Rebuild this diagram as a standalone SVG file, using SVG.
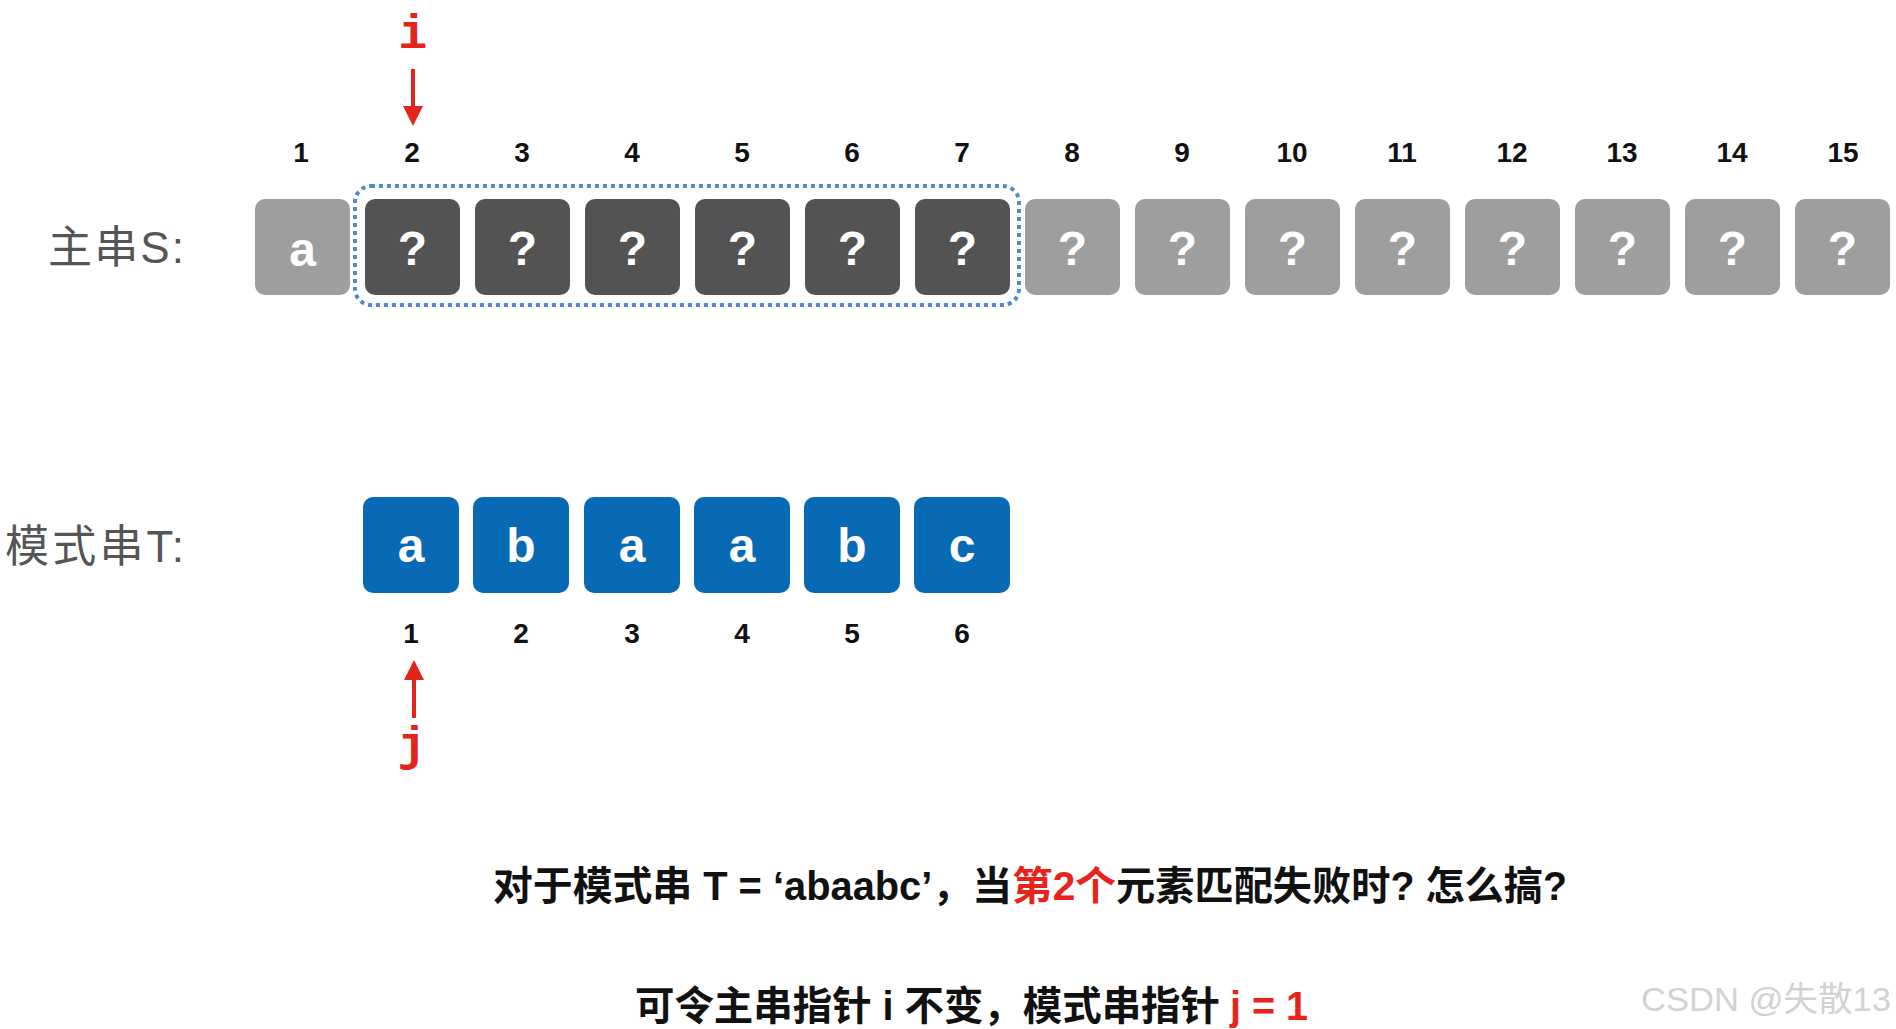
<svg xmlns="http://www.w3.org/2000/svg" width="1896" height="1029" viewBox="0 0 1896 1029">
<style>
.bg{fill:#ffffff}
.lt{fill:#9e9e9e}
.dk{fill:#535353}
.bl{fill:#0869b4}
.bt{font-family:"Liberation Sans","Noto Sans CJK SC",sans-serif;font-weight:bold;font-size:48px;fill:#ffffff;text-anchor:middle}
.num{font-family:"Liberation Sans",sans-serif;font-weight:bold;font-size:28px;fill:#111111;text-anchor:middle}
.lab{font-family:"Liberation Sans","Noto Sans CJK SC",sans-serif;font-size:44px;fill:#555555}
.ptr{font-family:"Liberation Mono","DejaVu Sans Mono",monospace;font-weight:bold;font-size:48px;fill:#e3241b;text-anchor:middle}
.cap{font-family:"Liberation Sans","Noto Sans CJK SC",sans-serif;font-weight:bold;font-size:40px;fill:#111111}
.red{fill:#e8231b}
.wm{font-family:"Liberation Sans","Noto Sans CJK SC",sans-serif;font-size:34px;fill:#d2d2d2}
</style>
<rect class="bg" x="0" y="0" width="1896" height="1029"/>
<text class="lab" x="48" y="263" textLength="136" lengthAdjust="spacing">主串S:</text>
<text class="lab" x="5" y="562" textLength="179" lengthAdjust="spacing">模式串T:</text>
<g id="S">
<g id="s1"><rect class="lt" x="255" y="199" width="95" height="96" rx="10"/><text class="bt" x="302.5" y="266">a</text></g>
<g id="s2"><rect class="dk" x="365" y="199" width="95" height="96" rx="10"/><text class="bt" x="412.5" y="265">?</text></g>
<g id="s3"><rect class="dk" x="475" y="199" width="95" height="96" rx="10"/><text class="bt" x="522.5" y="265">?</text></g>
<g id="s4"><rect class="dk" x="585" y="199" width="95" height="96" rx="10"/><text class="bt" x="632.5" y="265">?</text></g>
<g id="s5"><rect class="dk" x="695" y="199" width="95" height="96" rx="10"/><text class="bt" x="742.5" y="265">?</text></g>
<g id="s6"><rect class="dk" x="805" y="199" width="95" height="96" rx="10"/><text class="bt" x="852.5" y="265">?</text></g>
<g id="s7"><rect class="dk" x="915" y="199" width="95" height="96" rx="10"/><text class="bt" x="962.5" y="265">?</text></g>
<g id="s8"><rect class="lt" x="1025" y="199" width="95" height="96" rx="10"/><text class="bt" x="1072.5" y="265">?</text></g>
<g id="s9"><rect class="lt" x="1135" y="199" width="95" height="96" rx="10"/><text class="bt" x="1182.5" y="265">?</text></g>
<g id="s10"><rect class="lt" x="1245" y="199" width="95" height="96" rx="10"/><text class="bt" x="1292.5" y="265">?</text></g>
<g id="s11"><rect class="lt" x="1355" y="199" width="95" height="96" rx="10"/><text class="bt" x="1402.5" y="265">?</text></g>
<g id="s12"><rect class="lt" x="1465" y="199" width="95" height="96" rx="10"/><text class="bt" x="1512.5" y="265">?</text></g>
<g id="s13"><rect class="lt" x="1575" y="199" width="95" height="96" rx="10"/><text class="bt" x="1622.5" y="265">?</text></g>
<g id="s14"><rect class="lt" x="1685" y="199" width="95" height="96" rx="10"/><text class="bt" x="1732.5" y="265">?</text></g>
<g id="s15"><rect class="lt" x="1795" y="199" width="95" height="96" rx="10"/><text class="bt" x="1842.5" y="265">?</text></g>
</g>
<g id="Snums">
<text class="num" x="301" y="162">1</text><text class="num" x="412" y="162">2</text><text class="num" x="522" y="162">3</text><text class="num" x="632" y="162">4</text><text class="num" x="742" y="162">5</text><text class="num" x="852" y="162">6</text><text class="num" x="962" y="162">7</text><text class="num" x="1072" y="162">8</text><text class="num" x="1182" y="162">9</text><text class="num" x="1292" y="162">10</text><text class="num" x="1402" y="162">11</text><text class="num" x="1512" y="162">12</text><text class="num" x="1622" y="162">13</text><text class="num" x="1732" y="162">14</text><text class="num" x="1843" y="162">15</text>
</g>
<g id="window"><rect x="355" y="186" width="664" height="119" rx="16" fill="none" stroke="#4a8bd2" stroke-width="4" stroke-dasharray="4 4"/></g>
<g id="T">
<g id="t1"><rect class="bl" x="363" y="497" width="96" height="96" rx="10"/><text class="bt" x="411" y="562">a</text></g>
<g id="t2"><rect class="bl" x="473" y="497" width="96" height="96" rx="10"/><text class="bt" x="521" y="562">b</text></g>
<g id="t3"><rect class="bl" x="584" y="497" width="96" height="96" rx="10"/><text class="bt" x="632" y="562">a</text></g>
<g id="t4"><rect class="bl" x="694" y="497" width="96" height="96" rx="10"/><text class="bt" x="742" y="562">a</text></g>
<g id="t5"><rect class="bl" x="804" y="497" width="96" height="96" rx="10"/><text class="bt" x="852" y="562">b</text></g>
<g id="t6"><rect class="bl" x="914" y="497" width="96" height="96" rx="10"/><text class="bt" x="962" y="562">c</text></g>
</g>
<g id="Tnums">
<text class="num" x="411" y="643">1</text><text class="num" x="521" y="643">2</text><text class="num" x="632" y="643">3</text><text class="num" x="742" y="643">4</text><text class="num" x="852" y="643">5</text><text class="num" x="962" y="643">6</text>
</g>
<g id="connectors">
<line x1="413" y1="69" x2="413" y2="108" stroke="#e3241b" stroke-width="4"/>
<polygon points="403,106 423,106 413,126" fill="#e3241b"/>
<line x1="414" y1="718" x2="414" y2="678" stroke="#e3241b" stroke-width="4"/>
<polygon points="404,680 424,680 414,660" fill="#e3241b"/>
</g>
<text class="ptr" x="413" y="48">i</text>
<text class="ptr" x="412" y="760">j</text>
<text class="cap" x="493" y="900" textLength="519" lengthAdjust="spacingAndGlyphs">对于模式串 T = ‘abaabc’，当</text>
<text class="cap red" x="1012" y="900" textLength="104" lengthAdjust="spacingAndGlyphs">第2个</text>
<text class="cap" x="1116" y="900" textLength="451" lengthAdjust="spacingAndGlyphs">元素匹配失败时? 怎么搞?</text>
<text class="cap" x="635" y="1020" textLength="585" lengthAdjust="spacingAndGlyphs">可令主串指针 i 不变，模式串指针</text>
<text class="cap red" x="1230" y="1020" textLength="78" lengthAdjust="spacingAndGlyphs">j = 1</text>
<text class="wm" x="1641" y="1011" textLength="250" lengthAdjust="spacingAndGlyphs">CSDN @失散13</text>
</svg>
